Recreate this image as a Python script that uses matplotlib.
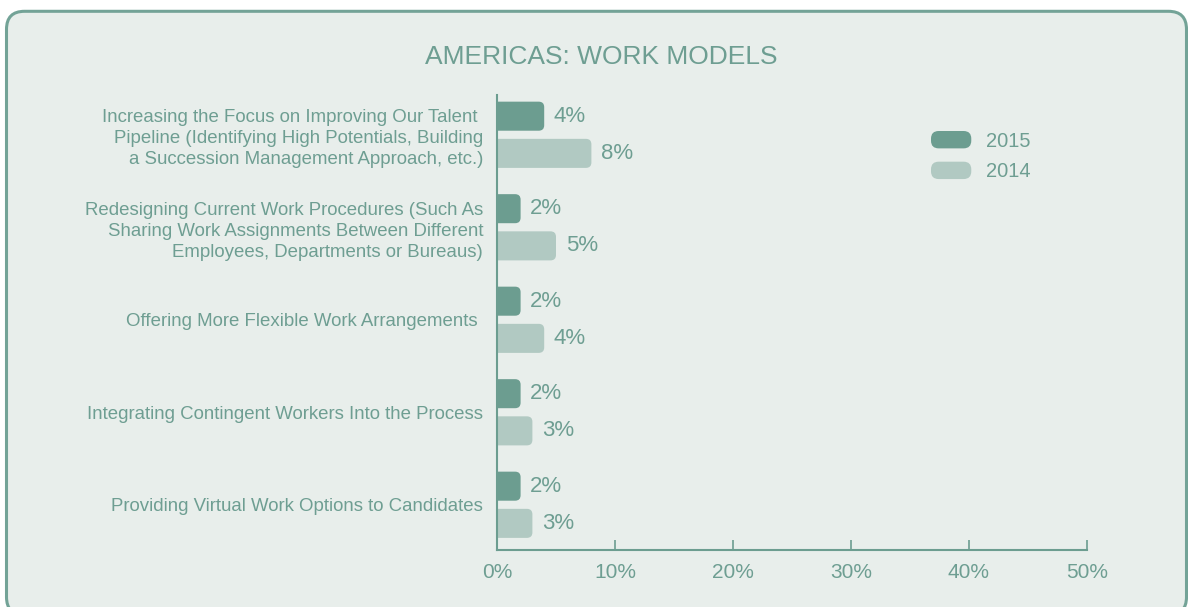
import matplotlib
matplotlib.use("Agg")
import matplotlib.pyplot as plt
from matplotlib.patches import FancyBboxPatch, Patch
from matplotlib.legend_handler import HandlerPatch

# ================= DATA =================
categories = [
    "Increasing the Focus on Improving Our Talent \nPipeline (Identifying High Potentials, Building\na Succession Management Approach, etc.)",
    "Redesigning Current Work Procedures (Such As\nSharing Work Assignments Between Different\nEmployees, Departments or Bureaus)",
    "Offering More Flexible Work Arrangements ",
    "Integrating Contingent Workers Into the Process",
    "Providing Virtual Work Options to Candidates",
]
values_2015 = [4, 2, 2, 2, 2]
values_2014 = [8, 5, 4, 3, 3]
series_labels = ["2015", "2014"]
x_ticks = [0, 10, 20, 30, 40, 50]
title = "AMERICAS: WORK MODELS"

# ================= STYLE =================
DARK = "#6c9d90"
LIGHT = "#b1c9c2"
TEXT = "#6e9e92"
BG = "#e8eeeb"
BORDER = "#73a397"
plt.rcParams["font.family"] = ["Liberation Sans", "DejaVu Sans"]

fig = plt.figure(figsize=(11.88, 6.07), dpi=100)
fig.patch.set_facecolor("white")

# rounded panel behind everything (inches, so corners stay round)
panel = FancyBboxPatch((0.065, -0.08), 11.80, 6.037,
                       boxstyle="round,pad=0,rounding_size=0.18",
                       transform=fig.dpi_scale_trans, fc=BG, ec=BORDER,
                       lw=2.2, zorder=0)
fig.add_artist(panel)

ax = fig.add_axes([497 / 1188, 1 - 550 / 607, 590 / 1188, 455 / 607])
ax.set_facecolor("none")
ax.set_xlim(0, 50)
ax.set_ylim(4.489, -0.43)

# ================= BARS =================
offset = 0.201
bar_h = 0.314
ax_w = ax.get_position().width * fig.get_figwidth() * fig.dpi
ax_h = ax.get_position().height * fig.get_figheight() * fig.dpi
ppx = ax_w / 50
ppy = ax_h / (4.489 + 0.43)
aspect = ppx / ppy
r = 5.5 / ppx

for i, (v15, v14) in enumerate(zip(values_2015, values_2014)):
    for v, y, c in [(v15, i - offset, DARK), (v14, i + offset, LIGHT)]:
        p = FancyBboxPatch((-r, y - bar_h / 2), v + r, bar_h,
                           boxstyle=f"round,pad=0,rounding_size={r}",
                           mutation_aspect=aspect, fc=c, ec="none", zorder=2)
        ax.add_patch(p)
        ax.annotate(f"{v}%", (v, y), xytext=(7, 0), textcoords="offset points",
                    va="center", ha="left", fontsize=16, color=TEXT)

# ================= AXES =================
for s in ["top", "right"]:
    ax.spines[s].set_visible(False)
for s in ["left", "bottom"]:
    ax.spines[s].set_color(DARK)
    ax.spines[s].set_linewidth(1.5)
    ax.spines[s].set_zorder(3)

ax.set_xticks(x_ticks, [f"{t}%" for t in x_ticks])
ax.tick_params(axis="x", direction="in", length=7.5, width=1.2, color=DARK,
               labelsize=15, labelcolor=TEXT, pad=9)
ax.set_yticks(range(len(categories)), categories)
ax.tick_params(axis="y", length=0, labelsize=13.4, labelcolor=TEXT, pad=10)
for lbl in ax.get_yticklabels():
    lbl.set_linespacing(1.3)

fig.text(601 / 1188, 1 - 64 / 607, title, ha="center", va="baseline",
         fontsize=19, color=TEXT)


# ================= LEGEND =================
class RoundHandler(HandlerPatch):
    def create_artists(self, legend, orig_handle, xdescent, ydescent,
                       width, height, fontsize, trans):
        p = FancyBboxPatch((-xdescent, -ydescent), width, height,
                           boxstyle="round,pad=0,rounding_size=5.5",
                           fc=orig_handle.get_facecolor(), ec="none",
                           transform=trans)
        return [p]


handles = [Patch(fc=DARK), Patch(fc=LIGHT)]
fig.legend(handles, series_labels, loc="upper left",
           bbox_to_anchor=(931 / 1188, 1 - 131 / 607), frameon=False,
           borderpad=0, borderaxespad=0, handlelength=2.0, handleheight=0.95,
           handletextpad=0.75, labelspacing=0.55, fontsize=14.5,
           labelcolor=TEXT, handler_map={Patch: RoundHandler()})

plt.savefig("out.png", dpi=100, facecolor=fig.get_facecolor())
